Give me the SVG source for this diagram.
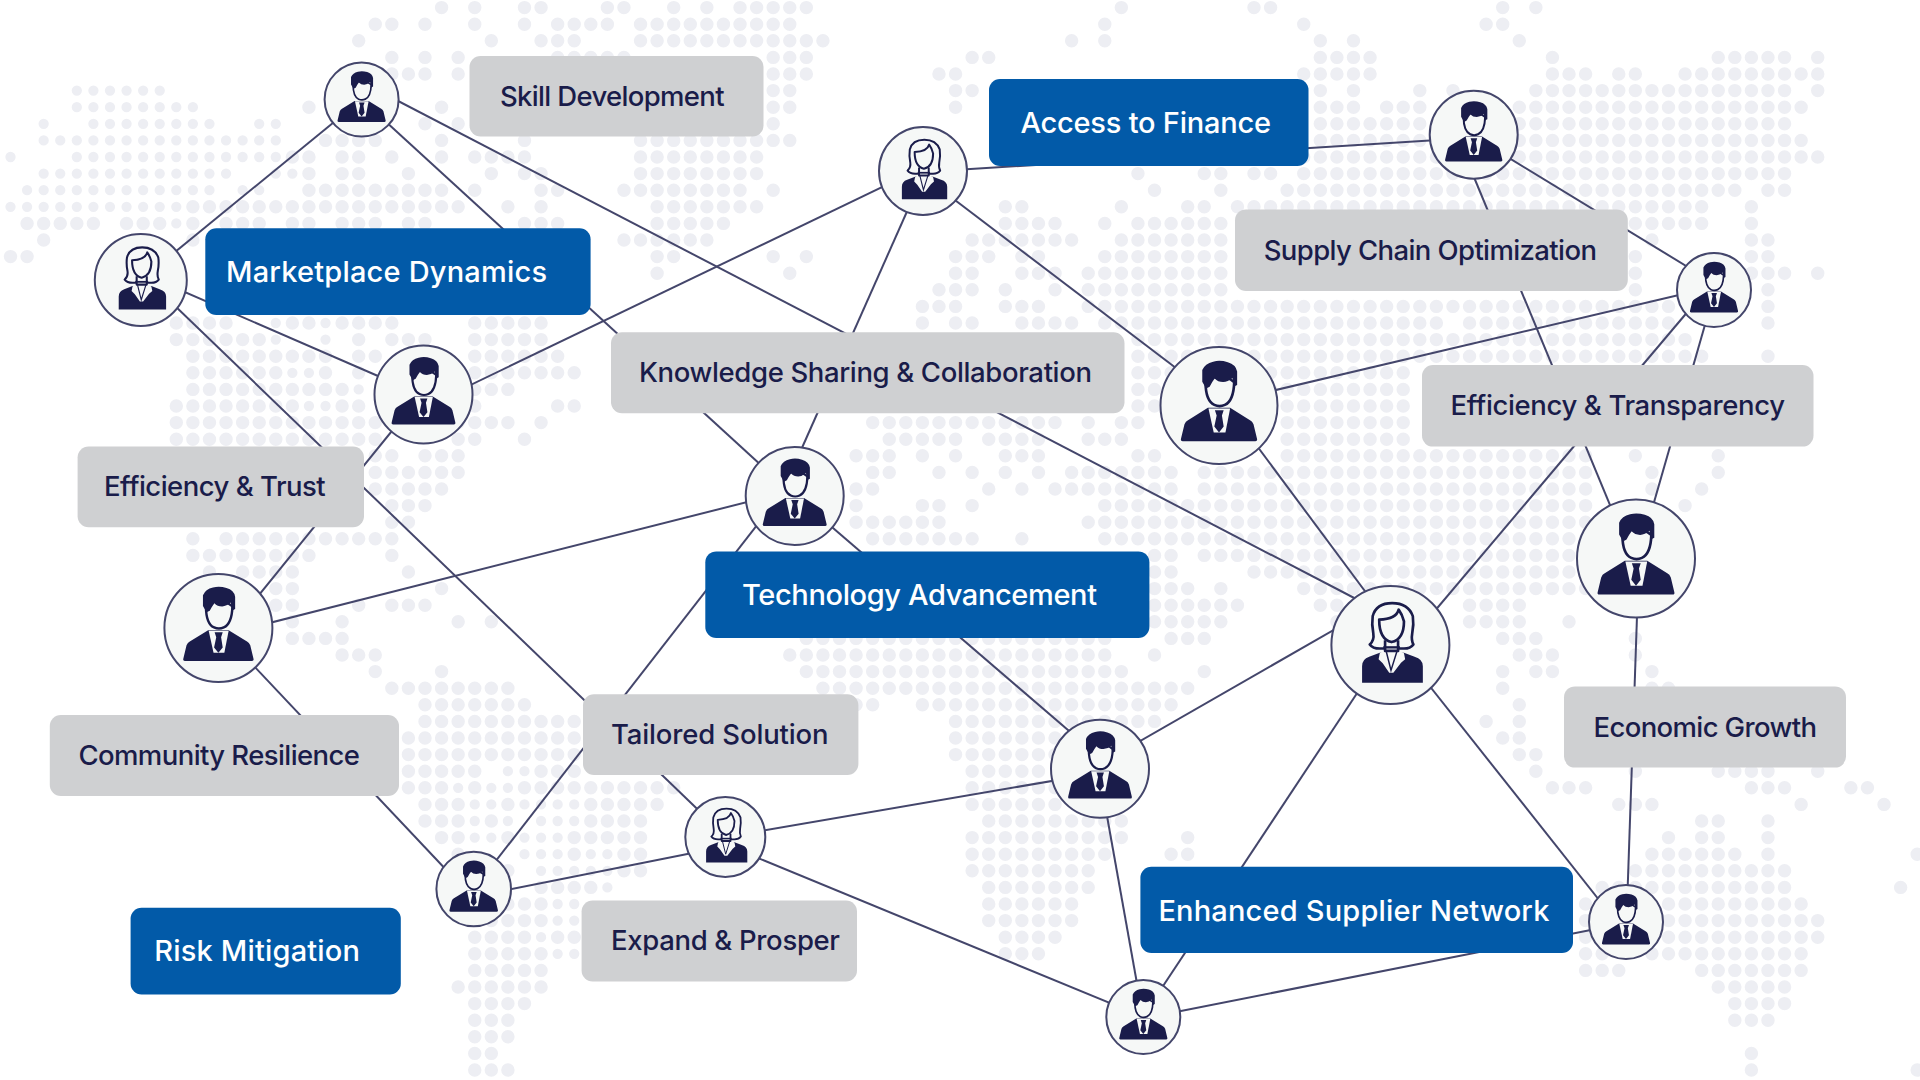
<svg xmlns="http://www.w3.org/2000/svg" xmlns:xlink="http://www.w3.org/1999/xlink" width="1920" height="1080" viewBox="0 0 1920 1080">
<style>
.dots{fill:none;stroke:#edeef3;stroke-linecap:round;stroke-dasharray:0 1}
.big{stroke-width:.81}
.small{stroke-width:.62}
#connectors line{stroke:#44466b;stroke-width:2;fill:none}
.ring{fill:#f6f8f7;stroke:#44466b;stroke-width:2;vector-effect:non-scaling-stroke}
.navy{fill:#1a1c4a}
.pale{fill:#f6f8f7}
.outl{fill:#f6f8f7;stroke:#1a1c4a;stroke-width:4.500;stroke-linejoin:round}
.thin{fill:none;stroke:#1a1c4a;stroke-width:2.500}
.blue{fill:#025aa8}
.grey{fill:#cfd0d2}
text{font-family:"Inter","Liberation Sans",sans-serif}
.tb{fill:#ffffff;font-weight:500;font-size:29px}
.tg{fill:#1a1c4a;font-weight:500;font-size:27.500px}
</style>
<defs>
<g id="man">
<circle class="ring" r="100"/>
<path class="navy" d="M-65 57L-59 32Q-57 27-53 25L-19 4H19L53 25Q57 27 59 32L65 57Q66 61 62 61H-62Q-66 61-65 57Z"/>
<path class="pale" d="M-18 5H19L11 46H-9Z"/>
<path class="navy" d="M-7 8H8L5 17 8 36 0 46-8 36-4 17Z"/>
<path class="outl" d="M-23-40Q-23-8-8-1Q1 3 10-1Q25-8 26-40Q1-60-23-40Z"/>
<path class="navy" d="M-28.600-40.600V-60.600Q-24-72-10-75Q2-78 15-74Q29-70 31-58V-35L25-32 23-47Q15-40 7-40Q-2-40-7.400-46Q-12-40-16-32L-22-29Z"/>
</g>
<g id="woman">
<circle class="ring" r="100"/>
<path class="navy" d="M-48 62V36Q-48 24-36 20L-18 13H23L41 20Q55 24 55 36V64H-48Z"/>
<path class="pale" d="M-18 14-12 10H15L23 14 25 24 18 30 5 47H-2L-13 31-20 24Z"/>
<path class="thin" d="M-7 11 1 43 11 11"/>
<path class="outl" d="M-18 6Q-30 6-35-1Q-27-8-29-20Q-32-35-30-49Q-24-71 3-71Q30-71 38-49Q40-35 37-20Q35-8 39-1Q34 6 23 6Z"/>
<path class="outl" d="M-9-8V10H13V-8"/>
<path class="navy" d="M-12 2H16V6H-12Z"/>
<path class="outl" d="M-19-43Q-19-10 2-5Q23-10 23-40Q20-52 14-60Q10-44-19-43Z"/>
</g>
</defs>
<rect width="1920" height="1080" fill="#ffffff"/>
<g id="map" transform="translate(10.5 7.6) scale(16.58 16.6)">
<path class="dots small" d="M4 5H9.010M4 6H11.010M2 7h.01M5 7H12.010M15 7H16.010M2 8H16.010M0 9h.01M4 9H16.010M2 10H13.010M16 10H17.010M1 11H12.010M14 11H15.010M0 12H10.010M10 13h.01M16 19h.01M19 19h.01M16 20h.01M19 20h.01M17 22H18.010M21 23h.01M18 24H19.010M30 46H31.010M27 47h.01M29 47H30.010M28 48H29.010M31 48H34.010M28 49h.01M30 49h.01M32 49H34.010M28 50H29.010M31 50H33.010M31 51H33.010M35 51H36.010M32 52H36.010M36 53h.01M33 54H34.010M33 55H34.010M32 56h.01M33 57H34.010"/>
<path class="dots big" d="M26 0h.01M28 0h.01M31 0H32.010M36 0H37.010M40 0h.01M42 0h.01M44 0H48.010M67 0h.01M75 0H76.010M90 0h.01M92 0h.01
M22 1H23.010M25 1h.01M28 1h.01M31 1h.01M33 1H36.010M38 1H47.010M66 1h.01M78 1h.01M89 1H90.010
M21 2h.01M29 2h.01M32 2H34.010M38 2H49.010M64 2h.01M66 2h.01M79 2h.01M81 2h.01M91 2h.01
M23 3h.01M25 3h.01M27 3h.01M33 3H37.010M46 3H48.010M58 3H59.010M79 3H82.010M93 3h.01M103 3H107.010M109 3h.01
M23 4H25.010M27 4h.01M46 4H48.010M56 4H57.010M78 4H82.010M93 4H95.010M97 4H98.010M101 4H109.010
M46 5H47.010M57 5H58.010M79 5h.01M81 5h.01M85 5h.01M87 5h.01M92 5H107.010M109 5h.01
M18 6h.01M26 6h.01M46 6H47.010M57 6h.01M79 6H81.010M83 6H85.010M91 6H108.010
M25 7h.01M27 7h.01M46 7h.01M79 7H107.010
M19 8H22.010M26 8h.01M31 8h.01M38 8H47.010M79 8H108.010
M17 9H18.010M20 9H21.010M23 9h.01M26 9h.01M28 9H31.010M38 9H45.010M78 9H109.010
M18 10h.01M20 10H21.010M24 10h.01M29 10h.01M31 10H32.010M38 10H45.010M68 10h.01M72 10H73.010M75 10H76.010M78 10H107.010
M18 11H26.010M28 11h.01M32 11H33.010M37 11H44.010M46 11h.01M69 11h.01M73 11h.01M77 11H104.010M106 11H107.010
M11 12H27.010M30 12h.01M32 12h.01M39 12H45.010M60 12H61.010M67 12h.01M71 12H72.010M74 12H102.010M105 12h.01
M1 13H5.010M7 13H9.010M11 13h.01M13 13H15.010M17 13H18.010M20 13H22.010M24 13H25.010M31 13H33.010M39 13H43.010M60 13H63.010M66 13h.01M68 13H73.010M98 13H102.010M105 13h.01
M2 14h.01M11 14h.01M37 14H42.010M58 14H64.010M67 14H73.010M99 14h.01M105 14H106.010
M0 15H1.010M39 15H40.010M46 15h.01M48 15h.01M57 15H59.010M61 15H62.010M66 15H73.010M98 15h.01M105 15H106.010
M39 16h.01M47 16h.01M57 16H58.010M61 16H63.010M65 16H73.010M98 16h.01M105 16H107.010M109 16h.01
M56 17H58.010M60 17h.01M63 17h.01M65 17H73.010M98 17h.01M106 17h.01
M55 18H57.010M60 18H62.010M65 18H100.010M106 18h.01
M10 19H13.010M17 19H18.010M20 19H23.010M28 19H32.010M55 19h.01M57 19H58.010M61 19H64.010M66 19H86.010M88 19H100.010M106 19h.01
M10 20H15.010M21 20h.01M23 20H25.010M28 20H32.010M68 20H101.010
M11 21H19.010M21 21H22.010M28 21H33.010M68 21H102.010M106 21h.01
M11 22H16.010M19 22h.01M21 22h.01M27 22H34.010M68 22H84.010
M11 23H20.010M27 23H30.010M68 23H84.010
M10 24H17.010M20 24H21.010M27 24H28.010M33 24H34.010M68 24H84.010
M10 25H23.010M27 25H30.010M32 25h.01M52 25H63.010M65 25h.01M67 25H68.010M77 25H84.010
M10 26H22.010M27 26H28.010M31 26h.01M53 26H57.010M59 26H62.010M65 26H67.010M77 26H84.010
M22 27H23.010M25 27H27.010M51 27H53.010M55 27h.01M57 27h.01M60 27H62.010M68 27H69.010M77 27H95.010M98 27h.01M103 27h.01
M22 28H27.010M52 28H53.010M56 28h.01M58 28h.01M60 28h.01M62 28h.01M64 28H70.010M72 28H95.010M99 28h.01M103 28h.01
M22 29H26.010M51 29H52.010M59 29h.01M61 29h.01M63 29H70.010M72 29H95.010M99 29h.01M102 29h.01
M23 30H25.010M51 30h.01M55 30H56.010M58 30h.01M66 30H95.010M101 30h.01
M23 31H24.010M51 31H56.010M65 31H95.010
M11 32h.01M13 32H23.010M52 32H58.010M61 32h.01M66 32H95.010
M11 33H18.010M23 33h.01M69 33H70.010M72 33H94.010
M12 34h.01M14 34H17.010M24 34h.01M69 34H70.010M75 34H94.010
M16 35H17.010M26 35h.01M69 35H71.010M73 35h.01M78 35H95.010
M16 36H17.010M21 36h.01M23 36H25.010M69 36H74.010M79 36H80.010M88 36H91.010
M17 37h.01M20 37h.01M27 37h.01M29 37h.01M69 37H73.010M80 37h.01M88 37H91.010M94 37h.01
M17 38H20.010M48 38H66.010M70 38H72.010M90 38H92.010M98 38h.01
M20 39H22.010M47 39H66.010M69 39h.01M91 39H93.010M98 39h.01
M22 40h.01M26 40h.01M48 40H67.010M72 40h.01M90 40h.01M92 40H93.010M99 40h.01
M23 41H30.010M49 41H71.010M90 41h.01M99 41H100.010
M25 42H31.010M51 42H52.010M55 42H70.010M91 42h.01
M25 43H34.010M57 43H69.010M89 43h.01M91 43h.01
M24 44H34.010M57 44H65.010M90 44H91.010
M24 45H34.010M57 45H63.010M91 45H92.010
M24 46H28.010M32 46H34.010M58 46H62.010M92 46h.01M98 46h.01M103 46H106.010M109 46h.01
M24 47H26.010M28 47h.01M31 47H40.010M58 47H63.010M93 47H95.010M105 47H107.010M111 47H112.010
M25 48H27.010M30 48h.01M35 48H39.010M58 48H63.010M97 48H99.010M108 48h.01M113 48h.01
M25 49H27.010M29 49h.01M35 49H38.010M59 49H67.010M102 49H103.010M106 49h.01
M26 50H27.010M30 50h.01M34 50H38.010M58 50H67.010M71 50h.01M100 50h.01M102 50H103.010M106 50h.01
M27 51h.01M34 51h.01M37 51H38.010M58 51H66.010M70 51H71.010M99 51H104.010M106 51h.01M115 51h.01
M30 52h.01M37 52H38.010M58 52H65.010M98 52H107.010
M32 53H35.010M59 53H65.010M96 53H107.010M114 53h.01
M29 54H32.010M59 54H64.010M95 54h.01M100 54H108.010
M29 55H32.010M59 55H64.010M95 55h.01M100 55H109.010
M28 56H31.010M33 56H34.010M60 56H63.010M95 56h.01M100 56H109.010
M28 57H32.010M60 57H62.010M95 57H96.010M99 57H108.010
M28 58H32.010M95 58H97.010M102 58H108.010
M27 59H32.010M103 59H107.010
M28 60H31.010M104 60H107.010
M28 61H30.010M104 61H106.010
M28 62H30.010
M28 63H29.010M105 63h.01
M28 64H30.010M105 64h.01M115 64h.01"/>
</g>
<g id="connectors">
<line x1="361.600" y1="99.500" x2="140.800" y2="280"/>
<line x1="361.600" y1="99.500" x2="794.700" y2="496"/>
<line x1="361.600" y1="82" x2="1360" y2="601"/>
<line x1="141" y1="273" x2="424" y2="396"/>
<line x1="140.800" y1="273" x2="725.300" y2="836"/>
<line x1="423.500" y1="407.600" x2="923" y2="167.400"/>
<line x1="423.500" y1="392" x2="218.400" y2="645"/>
<line x1="923" y1="172" x2="1473.700" y2="137.800"/>
<line x1="925" y1="171" x2="780.600" y2="496"/>
<line x1="923" y1="175.800" x2="1219" y2="400.700"/>
<line x1="1473.700" y1="136.400" x2="1714" y2="283"/>
<line x1="1471" y1="170" x2="1632" y2="558"/>
<line x1="1714" y1="286.800" x2="1219" y2="403.400"/>
<line x1="1706" y1="290" x2="1406" y2="645"/>
<line x1="1715" y1="290" x2="1638" y2="558"/>
<line x1="1226.500" y1="405" x2="1405" y2="645"/>
<line x1="794.700" y1="490" x2="218" y2="636"/>
<line x1="779.600" y1="496" x2="474" y2="889"/>
<line x1="795.800" y1="496" x2="1100" y2="757.600"/>
<line x1="218" y1="628" x2="473.700" y2="899"/>
<line x1="1639" y1="558" x2="1626.500" y2="922"/>
<line x1="1100" y1="764" x2="1372" y2="608"/>
<line x1="1389" y1="645" x2="1142.500" y2="1017"/>
<line x1="1390" y1="636" x2="1626" y2="934"/>
<line x1="1100" y1="772.700" x2="725.300" y2="837"/>
<line x1="1098.400" y1="768" x2="1143" y2="1017"/>
<line x1="725" y1="846.600" x2="473" y2="896.800"/>
<line x1="725" y1="844.400" x2="1143" y2="1016.700"/>
<line x1="1143" y1="1018.500" x2="1626" y2="923"/>
</g>
<g id="label-skill"><rect class="grey" x="469.500" y="56" width="294" height="80.500" rx="11"/><text class="tg" x="500" y="105.700" textLength="224.500">Skill Development</text></g>
<g id="label-access"><rect class="blue" x="989" y="79" width="319.500" height="87" rx="11"/><text class="tb" x="1020.400" y="133" textLength="250.600">Access to Finance</text></g>
<g id="label-marketplace"><rect class="blue" x="205.300" y="228.300" width="385.300" height="86.700" rx="11"/><text class="tb" x="226" y="282" textLength="321">Marketplace Dynamics</text></g>
<g id="label-supply"><rect class="grey" x="1235" y="209.400" width="392.800" height="81.600" rx="11"/><text class="tg" x="1263.700" y="260" textLength="333.300">Supply Chain Optimization</text></g>
<g id="label-knowledge"><rect class="grey" x="611" y="332.300" width="513.500" height="80.900" rx="11"/><text class="tg" x="639" y="382" textLength="453">Knowledge Sharing &amp; Collaboration</text></g>
<g id="label-transparency"><rect class="grey" x="1422" y="365" width="391.500" height="81.600" rx="11"/><text class="tg" x="1450.600" y="415" textLength="334.400">Efficiency &amp; Transparency</text></g>
<g id="label-trust"><rect class="grey" x="77.600" y="446.600" width="286.400" height="80.600" rx="11"/><text class="tg" x="104" y="496" textLength="221.700">Efficiency &amp; Trust</text></g>
<g id="label-technology"><rect class="blue" x="705.300" y="551.400" width="444.100" height="86.600" rx="11"/><text class="tb" x="742" y="604.500" textLength="355">Technology Advancement</text></g>
<g id="label-tailored"><rect class="grey" x="583" y="694.300" width="275.400" height="80.700" rx="11"/><text class="tg" x="611" y="744" textLength="217.600">Tailored Solution</text></g>
<g id="label-community"><rect class="grey" x="49.800" y="715" width="349.200" height="81" rx="11"/><text class="tg" x="78.400" y="764.800" textLength="281.600">Community Resilience</text></g>
<g id="label-economic"><rect class="grey" x="1564" y="686.400" width="282" height="81.200" rx="11"/><text class="tg" x="1593.500" y="736.600" textLength="223.500">Economic Growth</text></g>
<g id="label-supplier"><rect class="blue" x="1140.400" y="866.800" width="432.600" height="86.200" rx="11"/><text class="tb" x="1158.400" y="921" textLength="391">Enhanced Supplier Network</text></g>
<g id="label-expand"><rect class="grey" x="581.600" y="900.500" width="275.400" height="81" rx="11"/><text class="tg" x="611" y="950" textLength="229">Expand &amp; Prosper</text></g>
<g id="label-risk"><rect class="blue" x="130.600" y="907.800" width="270.200" height="86.700" rx="11"/><text class="tb" x="154.300" y="961" textLength="205.700">Risk Mitigation</text></g>
<g id="person-1" transform="translate(361.600 99.500) scale(.37)"><use href="#man"/></g>
<g id="person-2" transform="translate(140.800 280) scale(.46)"><use href="#woman"/></g>
<g id="person-3" transform="translate(423.500 394.500) scale(.49)"><use href="#man"/></g>
<g id="person-4" transform="translate(923 171) scale(.44)"><use href="#woman"/></g>
<g id="person-5" transform="translate(1473.700 134.700) scale(.44)"><use href="#man"/></g>
<g id="person-6" transform="translate(1714 290) scale(.37)"><use href="#man"/></g>
<g id="person-7" transform="translate(1219 405.500) scale(.585)"><use href="#man"/></g>
<g id="person-8" transform="translate(794.700 496) scale(.49)"><use href="#man"/></g>
<g id="person-9" transform="translate(218.400 628) scale(.54)"><use href="#man"/></g>
<g id="person-10" transform="translate(1636 558.500) scale(.59)"><use href="#man"/></g>
<g id="person-11" transform="translate(1390.400 645) scale(.59)"><use href="#woman"/></g>
<g id="person-12" transform="translate(1100 768.700) scale(.49)"><use href="#man"/></g>
<g id="person-13" transform="translate(725.300 837) scale(.4)"><use href="#woman"/></g>
<g id="person-14" transform="translate(473.700 889) scale(.373)"><use href="#man"/></g>
<g id="person-15" transform="translate(1143.300 1017) scale(.37)"><use href="#man"/></g>
<g id="person-16" transform="translate(1626 922) scale(.37)"><use href="#man"/></g>
</svg>
